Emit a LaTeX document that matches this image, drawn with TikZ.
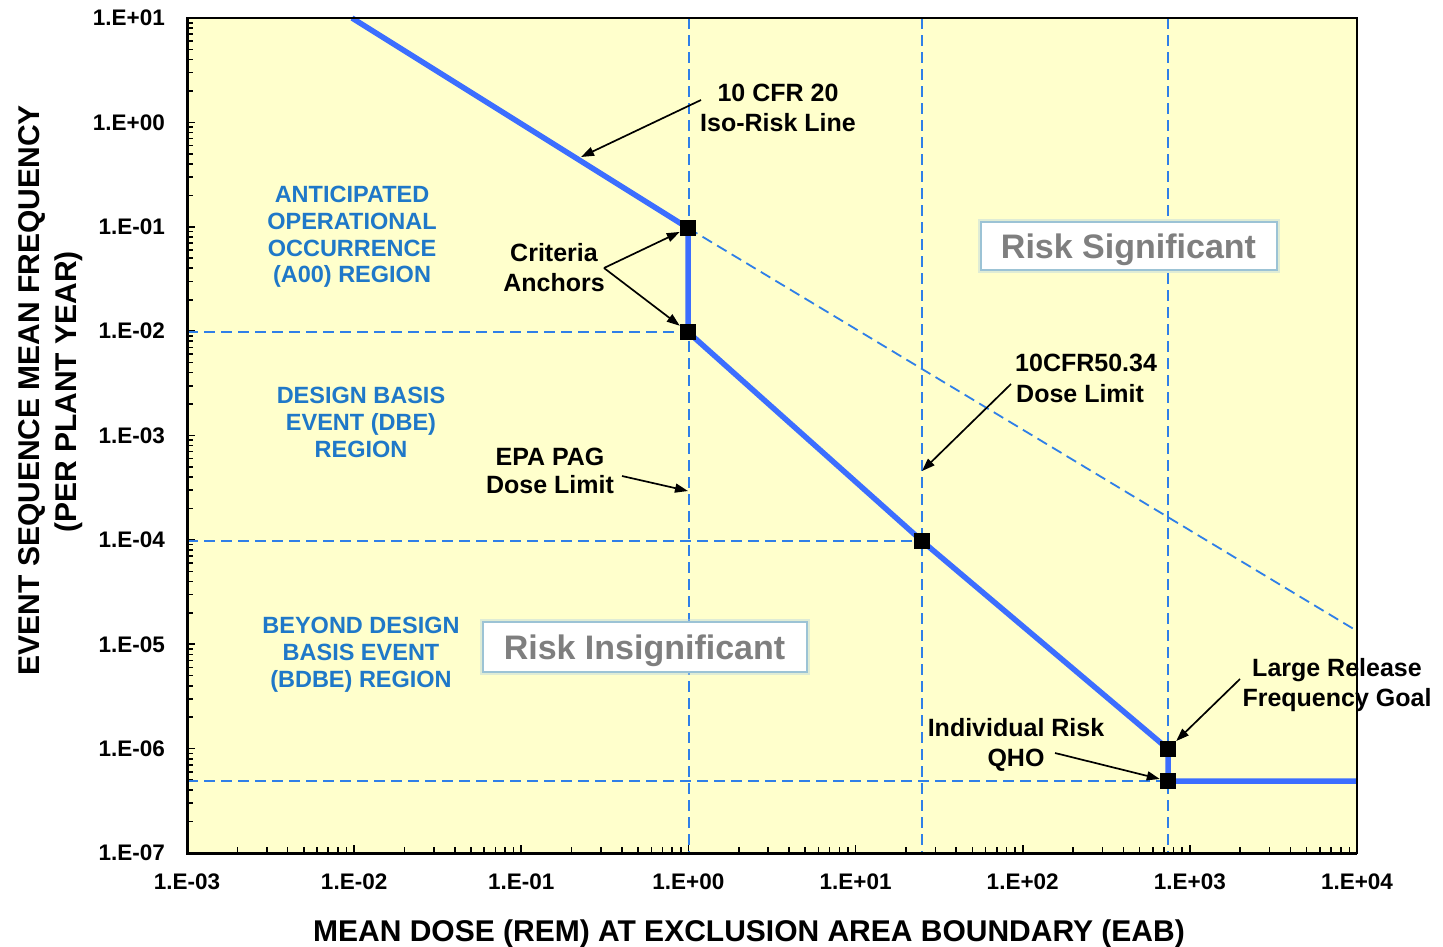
\documentclass[tikz,border=0pt]{standalone}
\usepackage{fontspec}
\setmainfont{Liberation Sans}
\usetikzlibrary{arrows.meta}
\definecolor{plotbg}{HTML}{FFFFCC}
\definecolor{mainblue}{HTML}{3C6EFF}
\definecolor{dashblue}{HTML}{2F7FE8}
\definecolor{regblue}{HTML}{1F78C8}
\definecolor{boxgray}{HTML}{7F7F7F}
\definecolor{boxedge}{HTML}{9CC3D5}
\begin{document}
\begin{tikzpicture}[x=1pt,y=-1pt,
  dashline/.style={draw=dashblue, line width=1.8pt, dash pattern=on 11pt off 6pt},
  mainline/.style={draw=mainblue, line width=5.5pt, line join=round},
  anchorbox/.style={fill=black, minimum size=16pt, inner sep=0pt, draw=none},
  callout/.style={draw=black, line width=1.7pt, -{Triangle[length=13pt,width=9pt]}},
  lbl/.style={font=\fontsize{25}{30}\selectfont\bfseries, anchor=base, inner sep=0pt},
  reg/.style={font=\fontsize{23.5}{27}\selectfont\bfseries, text=regblue, anchor=base, inner sep=0pt},
  ticklbl/.style={font=\fontsize{22.5}{26}\selectfont\bfseries, inner sep=0pt, text depth=0pt},
  axtitle/.style={font=\fontsize{30}{36}\selectfont\bfseries, anchor=base, inner sep=0pt},
  riskbox/.style={draw=boxedge, line width=2pt, fill=white, text=boxgray,
    font=\fontsize{34}{40}\selectfont\bfseries, inner sep=0pt,
    text height=24.3pt, text depth=0pt,
    preaction={draw=boxedge!70, line width=6pt, opacity=0.45}},
  tk/.style={line width=1.6pt}
]
\useasboundingbox (0,0) rectangle (1443,946);
\fill[white] (0,0) rectangle (1443,946);
\fill[plotbg] (187,18) rectangle (1357,853);

% minor / major ticks
\foreach \d in {0,...,6}{
  \foreach \m in {2,...,9}{
    \pgfmathsetmacro\xx{187+167.14*(\d+log10(\m))}
    \draw[tk] (\xx,853) -- (\xx,847);
  }
}
\foreach \d in {1,...,6}{
  \pgfmathsetmacro\xx{187+167.14*\d}
  \draw[tk] (\xx,853) -- (\xx,845);
}
\foreach \d in {0,...,7}{
  \foreach \m in {2,...,9}{
    \pgfmathsetmacro\yy{853-104.375*(\d+log10(\m))}
    \draw[tk] (187,\yy) -- (193,\yy);
  }
}
\foreach \d in {1,...,7}{
  \pgfmathsetmacro\yy{853-104.375*\d}
  \draw[tk] (187,\yy) -- (195,\yy);
}

% dashed guide lines
\draw[dashline] (689,18) -- (689,853);
\draw[dashline] (922,18) -- (922,853);
\draw[dashline] (1168,18) -- (1168,853);
\draw[dashline] (187,332) -- (688,332);
\draw[dashline] (187,541) -- (922,541);
\draw[dashline] (187,781) -- (1168,781);
\draw[dashline] (688,228) -- (1357,631);

% main criteria line
\coordinate (P1) at (352,18);
\coordinate (A1) at (688,228);
\coordinate (A2) at (688,332);
\coordinate (P4) at (922,541);
\coordinate (P5) at (1168,749);
\coordinate (P6) at (1168,781);
\coordinate (P7) at (1357,781);
\draw[mainline] (P1) -- (A1) -- (A2) -- (P4) -- (P5) -- (P6) -- (P7);

% axis frame
\draw[line width=1.8pt] (187,18) rectangle (1357,853);
\draw[line width=3pt] (187,18) -- (187,853) -- (1357,853);

% markers
\node[anchorbox] (m1) at (A1) {};
\node[anchorbox] (m2) at (A2) {};
\node[anchorbox] (m4) at (P4) {};
\node[anchorbox] (m5) at (P5) {};
\node[anchorbox] (m6) at (P6) {};

% tick labels
\foreach \k/\t in {0/1.E+01,1/1.E+00,2/1.E-01,3/1.E-02,4/1.E-03,5/1.E-04,6/1.E-05,7/1.E-06,8/1.E-07}{
  \node[ticklbl, anchor=east] (yl\k) at (165,{18+104.375*\k}) {\t};
}
\foreach \k/\t in {0/1.E-03,1/1.E-02,2/1.E-01,3/1.E+00,4/1.E+01,5/1.E+02,6/1.E+03,7/1.E+04}{
  \node[ticklbl] (xl\k) at ({187+167.14*\k},882) {\t};
}

% axis titles
\node[axtitle] (xt) at (749,941) {MEAN DOSE (REM) AT EXCLUSION AREA BOUNDARY (EAB)};
\node[axtitle, rotate=90] (yt1) at (39,390) {EVENT SEQUENCE MEAN FREQUENCY};
\node[axtitle, rotate=90] (yt2) at (76,392) {(PER PLANT YEAR)};

% region labels
\node[reg] (r1a) at (352,202.5) {ANTICIPATED};
\node[reg] (r1b) at (352,229) {OPERATIONAL};
\node[reg] (r1c) at (352,256) {OCCURRENCE};
\node[reg] (r1d) at (352,282.5) {(A00) REGION};
\node[reg] (r2a) at (361,403.5) {DESIGN BASIS};
\node[reg] (r2b) at (361,430.5) {EVENT (DBE)};
\node[reg] (r2c) at (361,457.5) {REGION};
\node[reg] (r3a) at (361,633.5) {BEYOND DESIGN};
\node[reg] (r3b) at (361,660.5) {BASIS EVENT};
\node[reg] (r3c) at (361,687.5) {(BDBE) REGION};

% risk boxes
\node[riskbox, minimum width=296pt, minimum height=48pt] (rs) at (1128.5,246) {Risk Significant};
\node[riskbox, minimum width=324pt, minimum height=50pt] (ri) at (644.5,647) {Risk Insignificant};

% annotation labels
\node[lbl] (iso1) at (778,101.5) {10 CFR 20};
\node[lbl] (iso2) at (778,131.5) {Iso-Risk Line};
\node[lbl] (cr1) at (554,261.5) {Criteria};
\node[lbl] (cr2) at (554,291.5) {Anchors};
\node[lbl] (epa1) at (550,465) {EPA PAG};
\node[lbl] (epa2) at (550,493) {Dose Limit};
\node[lbl, anchor=base west] (cfr1) at (1015,371.5) {10CFR50.34};
\node[lbl, anchor=base west] (cfr2) at (1016,402) {Dose Limit};
\node[lbl] (lr1) at (1337,676) {Large Release};
\node[lbl] (lr2) at (1337,706) {Frequency Goal};
\node[lbl] (ir1) at (1016,736) {Individual Risk};
\node[lbl] (ir2) at (1016,766) {QHO};

% callout arrows
\coordinate (isoS) at (701,100);
\coordinate (isoE) at (581,157);
\coordinate (crS) at (604,268);
\coordinate (epaS) at (622,476);
\coordinate (epaE) at (688,491);
\coordinate (cfrS) at (1011,384);
\coordinate (cfrE) at (922,471);
\coordinate (lrS) at (1240,679);
\coordinate (irS) at (1055,753);
\draw[callout] (isoS) -- (isoE);
\draw[callout] (crS) -- (m1);
\draw[callout] (crS) -- (m2);
\draw[callout] (epaS) -- (epaE);
\draw[callout] (cfrS) -- (cfrE);
\draw[callout] (lrS) -- (m5);
\draw[callout] (irS) -- (m6);
\end{tikzpicture}
\end{document}
